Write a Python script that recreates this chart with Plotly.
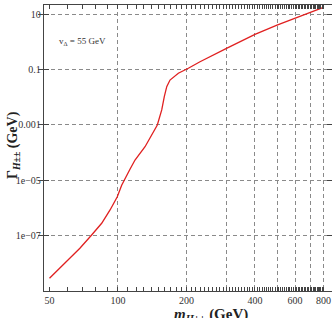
import plotly.graph_objects as go

# Data (mass in GeV, width in GeV)
mass = [50, 60, 68, 76.6, 84.8, 92.3, 99.3, 103.8, 107, 112.9, 118.8, 131.5, 148.9,
        155.7, 159.8, 163.8, 169.3, 184.2, 203.8, 229.4, 300, 400, 500, 600, 700, 800]
width = [2.9e-9, 1.26e-8, 3.5e-8, 1.06e-7, 2.8e-7, 8.5e-7, 2.56e-6, 6.6e-6, 1.12e-5,
         2.5e-5, 5.4e-5, 1.64e-4, 1.0e-3, 3.5e-3, 1.05e-2, 2.42e-2, 4.2e-2, 7.4e-2, 0.112,
         0.193, 0.59, 1.89, 4.07, 7.1, 11.7, 17.8]

x_minor_ticks = list(range(50, 801, 10))
x_major_labels = {50: "50", 100: "100", 200: "200", 400: "400", 600: "600", 800: "800"}
x_grid = [100, 200, 300, 400, 500, 600, 700, 800]
y_ticks = [10, 0.1, 0.001, 1e-5, 1e-7]
y_ticktext = ["10", "0.1", "0.001", "1e\u221205", "1e\u221207"]

serif = "Liberation Serif, Times New Roman, serif"
axcol = "#444444"

fig = go.Figure()
fig.add_trace(go.Scatter(x=mass, y=width, mode="lines",
                         line=dict(color="#e02020", width=1.3),
                         showlegend=False, hoverinfo="skip"))
# invisible trace on overlay axis for gridlines
fig.add_trace(go.Scatter(x=[mass[0]], y=[width[0]], xaxis="x2", mode="markers",
                         marker=dict(opacity=0), showlegend=False, hoverinfo="skip"))

xr = [1.6748, 2.9407]
fig.update_layout(
    width=332, height=318,
    margin=dict(l=44, r=0, t=5, b=27),
    paper_bgcolor="white", plot_bgcolor="white",
    font=dict(family=serif, size=10, color="#333333"),
    xaxis=dict(type="log", range=xr, tickmode="array",
               tickvals=x_minor_ticks,
               ticktext=[x_major_labels.get(v, "") for v in x_minor_ticks],
               ticks="inside", ticklen=4, tickwidth=1, tickcolor=axcol,
               showline=True, linecolor=axcol, linewidth=1.3, mirror="allticks",
               showgrid=False, zeroline=False,
               tickfont=dict(family=serif, size=10, color="#333333")),
    xaxis2=dict(type="log", range=xr, overlaying="x", tickmode="array",
                tickvals=x_grid, showticklabels=False, ticks="",
                showgrid=True, gridcolor="#8a8a8a", gridwidth=1, griddash="4px,3px",
                showline=False, zeroline=False),
    yaxis=dict(type="log", range=[-9, 1.336], tickmode="array",
               tickvals=y_ticks, ticktext=y_ticktext,
               ticks="inside", ticklen=5, tickwidth=1, tickcolor=axcol,
               showline=True, linecolor=axcol, linewidth=1.3, mirror="allticks",
               showgrid=True, gridcolor="#8a8a8a", gridwidth=1, griddash="4px,3px",
               zeroline=False,
               tickfont=dict(family=serif, size=10, color="#333333")),
    annotations=[
        dict(text="<b><i>m</i><sub><i>H</i>\u00b1\u00b1</sub> (GeV)</b>", xref="paper", yref="paper",
             x=0.58, y=-0.045, xanchor="center", yanchor="top", showarrow=False,
             font=dict(family=serif, size=15, color="#222222")),
        dict(text="<b>\u0393<sub><i>H</i>\u00b1\u00b1</sub> (GeV)</b>", xref="paper", yref="paper",
             x=-0.108, y=0.51, xanchor="center", yanchor="middle", textangle=-90, showarrow=False,
             font=dict(family=serif, size=14, color="#222222")),
        dict(text="v<sub>\u0394</sub> = 55 GeV", xref="paper", yref="paper",
             x=0.045, y=0.871, xanchor="left", yanchor="middle", showarrow=False,
             font=dict(family=serif, size=9, color="#333333")),
    ],
)

fig.write_html("out.html")
